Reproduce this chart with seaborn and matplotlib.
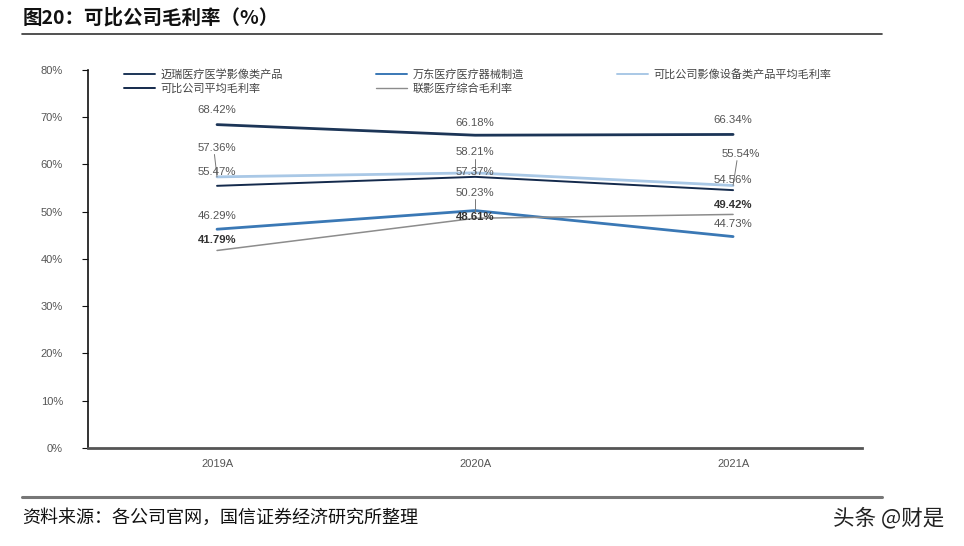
import matplotlib
matplotlib.use("Agg")
import matplotlib.pyplot as plt
import seaborn as sns
import pandas as pd

sns.set_theme(style="white")
plt.rcParams['font.family'] = ['Noto Sans CJK SC', 'DejaVu Sans']

years = ["2019A", "2020A", "2021A"]
mindray = [68.42, 66.18, 66.34]
wandong = [46.29, 50.23, 44.73]
imaging_avg = [57.36, 58.21, 55.54]
peer_avg = [55.47, 57.37, 54.56]
united = [41.79, 48.61, 49.42]

names = ["迈瑞医疗医学影像类产品", "万东医疗医疗器械制造", "可比公司影像设备类产品平均毛利率",
         "可比公司平均毛利率", "联影医疗综合毛利率"]
series = [mindray, wandong, imaging_avg, peer_avg, united]
colors = ["#1c3557", "#3a78b5", "#a9c8e6", "#142a4c", "#8c8c8c"]
widths = [2.0, 2.0, 2.0, 1.4, 1.1]

rows = []
for n, s in zip(names, series):
    for i, (y, v) in enumerate(zip(years, s)):
        rows.append({"year": y, "x": i, "value": v, "series": n})
df = pd.DataFrame(rows)

fig = plt.figure(figsize=(9.64, 5.46), dpi=100)
ax = fig.add_axes([0.0913, 0.1795, 0.803, 0.6925])

for n, c, w in zip(names, colors, widths):
    sns.lineplot(data=df[df.series == n], x="x", y="value", color=c, lw=w, ax=ax,
                 label=n, legend=False)

ax.set_xlim(-0.5, 2.5)
ax.set_ylim(0, 80)
ax.set_yticks(range(0, 81, 10))
ax.set_yticklabels([f"{v}%" for v in range(0, 81, 10)], fontsize=8, color="#555555",
                   family=['Liberation Sans'])
ax.set_xticks([0, 1, 2])
ax.set_xticklabels(years, fontsize=8, color="#555555", family=['Liberation Sans'])
ax.set_xticks([-0.5, 0.5, 1.5, 2.5], minor=True)
ax.tick_params(axis="x", which="major", length=0, pad=8)
ax.tick_params(axis="x", which="minor", length=4, width=0.8, color="#333333", direction="out")
ax.tick_params(axis="y", length=4, width=0.8, color="#111111", direction="out", pad=14, left=True)
ax.set_xlabel("")
ax.set_ylabel("")
for s in ["top", "right"]:
    ax.spines[s].set_visible(False)
ax.spines["left"].set_color("#111111")
ax.spines["left"].set_linewidth(1.2)
ax.spines["bottom"].set_color("#555555")
ax.spines["bottom"].set_linewidth(2.0)

# labels: (series index, point index, label y, bold, leader)
labels = [
    (0, 0, 71.5, False, False), (0, 1, 68.8, False, False), (0, 2, 69.4, False, False),
    (2, 0, 63.5, False, True), (2, 1, 62.6, False, True), (2, 2, 62.2, False, True),
    (3, 0, 58.4, False, False), (3, 1, 58.4, False, False), (3, 2, 56.7, False, False),
    (1, 0, 49.1, False, False), (1, 1, 54.0, False, True), (1, 2, 47.4, False, False),
    (4, 0, 44.0, True, False), (4, 1, 48.9, True, False), (4, 2, 51.4, True, False),
]
for si, pi, ly, bold, leader in labels:
    v = series[si][pi]
    lx = pi + (0.03 if (si == 2 and pi == 2) else 0)
    ax.text(lx, ly, f"{v:.2f}%", ha="center", va="center", fontsize=8.2,
            color="#333333" if bold else "#555555",
            fontweight="bold" if bold else "normal", family=['Liberation Sans'])
    if leader:
        ax.plot([lx - (0.015 if pi == 2 else 0) if pi != 0 else pi - 0.01, pi],
                [ly - 1.4, v], color="#777777", lw=0.7)

handles, labs = ax.get_legend_handles_labels()
order = [0, 3, 1, 4, 2]
leg = ax.legend([handles[i] for i in order], [labs[i] for i in order], ncol=3,
                loc="upper left", bbox_to_anchor=(0.041, 0.915, 0.925, 0.1), mode="expand",
                frameon=False, fontsize=8, handlelength=2.8, labelspacing=0.35,
                borderaxespad=0, handletextpad=0.5, labelcolor="#444444")
for line in leg.get_lines():
    line.set_linewidth(1.4 if line.get_color() != "#8c8c8c" else 1.0)

fig.text(0.023, 0.967, "图20：可比公司毛利率（%）", fontsize=14, fontweight="bold",
         ha="left", va="center", color="#111111")
fig.add_artist(plt.Line2D([0.023, 0.915], [0.938, 0.938], color="#333333", lw=1.2))
fig.add_artist(plt.Line2D([0.023, 0.915], [0.09, 0.09], color="#777777", lw=2.2))
fig.text(0.023, 0.051, "资料来源：各公司官网，国信证券经济研究所整理", fontsize=13,
         ha="left", va="center", color="#111111")
fig.text(0.98, 0.051, "头条 @财是", fontsize=15.5, ha="right", va="center", color="#222222")

fig.savefig("out.png", dpi=100)
